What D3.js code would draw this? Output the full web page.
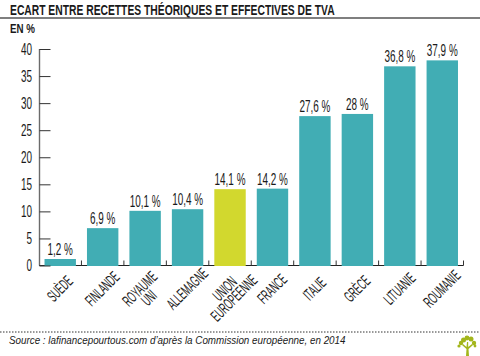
<!DOCTYPE html>
<html>
<head>
<meta charset="utf-8">
<script src="https://cdn.jsdelivr.net/npm/d3@7"></script>
<style>
html, body { margin: 0; padding: 0; background: #fff; }
svg { display: block; }
text { fill: #1a1a1a; }
</style>
</head>
<body>
<svg id="chart" width="480" height="356"></svg>
<script>
const countries = ["SUÈDE", "FINLANDE", "ROYAUME|UNI", "ALLEMAGNE", "UNION|EUROPÉENNE", "FRANCE", "ITALIE", "GRÈCE", "LITUANIE", "ROUMANIE"];
const values = [1.2, 6.9, 10.1, 10.4, 14.1, 14.2, 27.6, 28, 36.8, 37.9];
const valueLabels = ["1,2 %", "6,9 %", "10,1 %", "10,4 %", "14,1 %", "14,2 %", "27,6 %", "28 %", "36,8 %", "37,9 %"];
const yTicks = [0, 5, 10, 15, 20, 25, 30, 35, 40];

const svg = d3.select("#chart"),
    width = +svg.attr("width");

const font = "'Liberation Sans', sans-serif";

const x = d3.scaleBand()
    .domain(countries)
    .range([39, 463.5])
    .paddingInner(0.26)
    .paddingOuter(0.13);

const y = d3.scaleLinear()
    .domain([0, 40])
    .range([265.5, 49]);

// squeeze a text horizontally so it takes the wanted width
function fitText(sel, px, py, target) {
    const len = sel.node().getComputedTextLength();
    sel.attr("transform", `translate(${px},${py}) scale(${target / len},1)`);
}

// title + rules
fitText(svg.append("text")
    .style("font", "bold 15px " + font)
    .text("ECART ENTRE RECETTES THÉORIQUES ET EFFECTIVES DE TVA"), 10, 15, 325);

svg.append("line")
    .attr("x1", 0).attr("x2", width)
    .attr("y1", 18).attr("y2", 18)
    .attr("stroke", "#555").attr("stroke-width", 1.3);

fitText(svg.append("text")
    .style("font", "bold 12px " + font)
    .text("EN %"), 10, 33, 25);

// baseline goes under the bars
svg.append("line")
    .attr("x1", 39).attr("x2", 463.5)
    .attr("y1", y(0)).attr("y2", y(0))
    .attr("stroke", "#222").attr("stroke-width", 1);

// bars
svg.append("g")
    .selectAll("rect")
    .data(values)
    .enter().append("rect")
    .attr("x", (d, i) => x(countries[i]))
    .attr("y", d => y(d))
    .attr("width", x.bandwidth())
    .attr("height", d => y(0) - y(d) + 0.5)
    .attr("fill", (d, i) => i === 4 ? "#d2d82e" : "#41adb4");

svg.append("g")
    .selectAll("text")
    .data(values)
    .enter().append("text")
    .attr("text-anchor", "middle")
    .style("font", "16px " + font)
    .text((d, i) => valueLabels[i])
    .attr("transform", (d, i) => `translate(${x(countries[i]) + x.bandwidth() / 2},${y(d) - 4}) scale(0.62,1)`);

// y axis
const yAxis = svg.append("g")
    .attr("transform", "translate(39.5,0)")
    .call(d3.axisLeft(y).tickValues(yTicks).tickSize(-11).tickFormat(d3.format("d")));
yAxis.select(".domain").attr("stroke", "#6b6b6b").attr("stroke-width", 1.4).attr("d", `M0,${y(40)}V${y(0)}`);
yAxis.selectAll(".tick line").attr("stroke", "#333").attr("stroke-width", 1);
yAxis.selectAll(".tick text")
    .attr("x", -12)
    .attr("transform", "scale(0.62,1)")
    .style("font", "16px " + font)
    .style("fill", "#1a1a1a");

// category separators
const step = x.step();
svg.append("g")
    .selectAll("line")
    .data(countries)
    .enter().append("line")
    .attr("x1", d => x(d) + x.bandwidth() + (step - x.bandwidth()) / 2)
    .attr("x2", d => x(d) + x.bandwidth() + (step - x.bandwidth()) / 2)
    .attr("y1", y(0))
    .attr("y2", y(0) - 5)
    .attr("stroke", "#333");

// rotated country labels
const labels = svg.append("g")
    .selectAll("text")
    .data(countries)
    .enter().append("text")
    .attr("transform", d => {
        const two = d.includes("|");
        return `translate(${x(d) + x.bandwidth() / 2},${two ? 294 : 289}) rotate(-45) scale(0.52,1)`;
    })
    .attr("text-anchor", "middle")
    .style("font", "16px " + font);

labels.each(function (d) {
    const parts = d.split("|");
    d3.select(this).selectAll("tspan")
        .data(parts)
        .enter().append("tspan")
        .attr("x", 0)
        .attr("y", (p, i) => parts.length > 1 ? i * 13 - 2 : 5)
        .text(p => p);
});

// footer
svg.append("line")
    .attr("x1", 0).attr("x2", width)
    .attr("y1", 332).attr("y2", 332)
    .attr("stroke", "#333").attr("stroke-width", 1)
    .attr("stroke-dasharray", "1.5,1.5");

fitText(svg.append("text")
    .style("font", "italic 11px " + font)
    .text("Source : lafinancepourtous.com d’après la Commission européenne, en 2014"), 9, 344, 337);

// little tree logo
const logo = svg.append("g").attr("transform", "translate(467,346)").attr("fill", "#a3b61c");
logo.append("path").attr("d", "M-1,10 L-0.5,3 L-5,-1 L-4,-2 L-0.5,1 L0,-4 L1.2,-4 L1.2,1 L5,-2 L6,-1 L1.5,3 L2,10 Z");
[[-6, -3, 2.2], [-3.5, -6, 2.5], [0, -8, 2.4], [4, -7, 2.5], [7, -3, 2.2], [-8, 0, 1.6], [8, 0, 1.4]].forEach(c => {
    logo.append("circle").attr("cx", c[0]).attr("cy", c[1]).attr("r", c[2]);
});
</script>
</body>
</html>
